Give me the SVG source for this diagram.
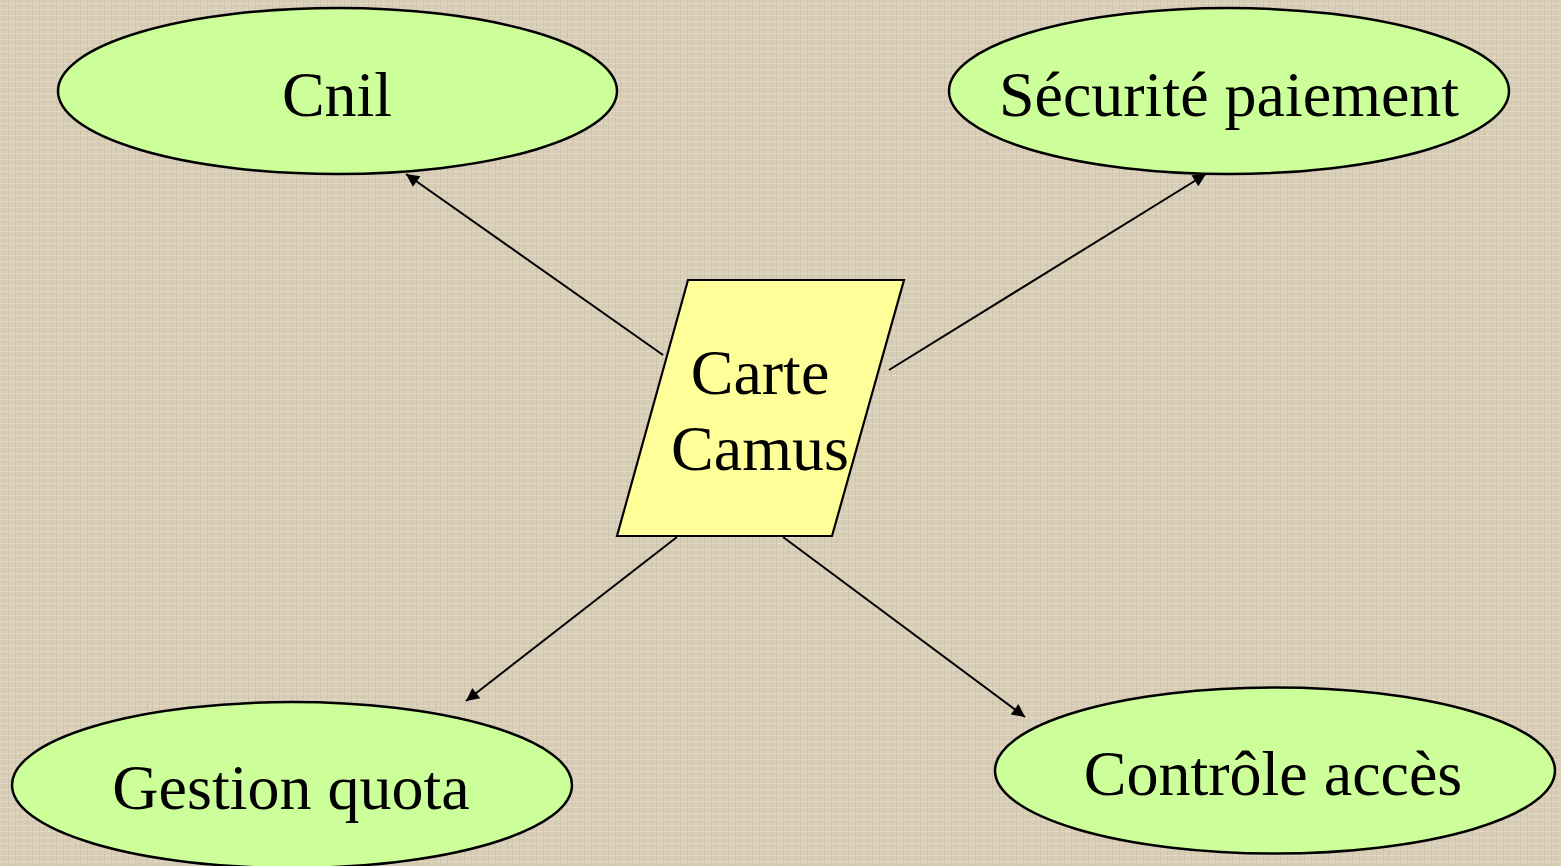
<svg xmlns="http://www.w3.org/2000/svg" width="1561" height="866" viewBox="0 0 1561 866">
<defs>
<style>
.bg{fill:#d8cdb6}
.oval{fill:#ccff99;stroke:#000;stroke-width:2.5}
.card{fill:#ffff99;stroke:#000;stroke-width:2.2}
.lbl{font-family:"Liberation Serif","Times New Roman",serif;font-size:64px;fill:#000;text-anchor:middle}
.edge{stroke:#000;stroke-width:2;fill:none;marker-end:url(#arr)}
</style>
<marker id="arr" viewBox="0 0 10 10" refX="10" refY="5" markerWidth="8" markerHeight="6.5" markerUnits="strokeWidth" orient="auto">
<path d="M0,0 L10,5 L0,10 z" fill="#000"/>
</marker>
<pattern id="linen" width="12" height="12" patternUnits="userSpaceOnUse">
<rect width="12" height="12" fill="#d8cdb6"/>
<path d="M0,3.5 H12 M0,9.5 H12" stroke="#e8dfcb" stroke-width="1" opacity="0.7"/>
<path d="M3.5,0 V12 M8.5,0 V12" stroke="#c8bca4" stroke-width="1" opacity="0.5"/>
</pattern>
</defs>
<rect class="bg" width="1561" height="866"/>
<rect width="1561" height="866" fill="url(#linen)"/>
<g id="connectors">
<line class="edge" x1="663" y1="355" x2="406" y2="174"/>
<line class="edge" x1="889" y1="370" x2="1206" y2="174"/>
<line class="edge" x1="677" y1="537" x2="466" y2="701"/>
<line class="edge" x1="783" y1="537" x2="1025" y2="717"/>
</g>
<g id="cnil">
<ellipse class="oval" cx="337.5" cy="91" rx="279.5" ry="83"/>
<text class="lbl" x="337" y="116">Cnil</text>
</g>
<g id="securite">
<ellipse class="oval" cx="1229" cy="91" rx="280" ry="83"/>
<text class="lbl" x="1229" y="116">Sécurité paiement</text>
</g>
<g id="gestion">
<ellipse class="oval" cx="292" cy="785" rx="280" ry="83"/>
<text class="lbl" x="291" y="809">Gestion quota</text>
</g>
<g id="controle">
<ellipse class="oval" cx="1275" cy="770.5" rx="280" ry="83"/>
<text class="lbl" x="1273" y="795">Contrôle accès</text>
</g>
<g id="carte">
<polygon class="card" points="688,280 904,280 832,536 617,536"/>
<text class="lbl" x="760" y="394">Carte</text>
<text class="lbl" x="760" y="470">Camus</text>
</g>
</svg>
